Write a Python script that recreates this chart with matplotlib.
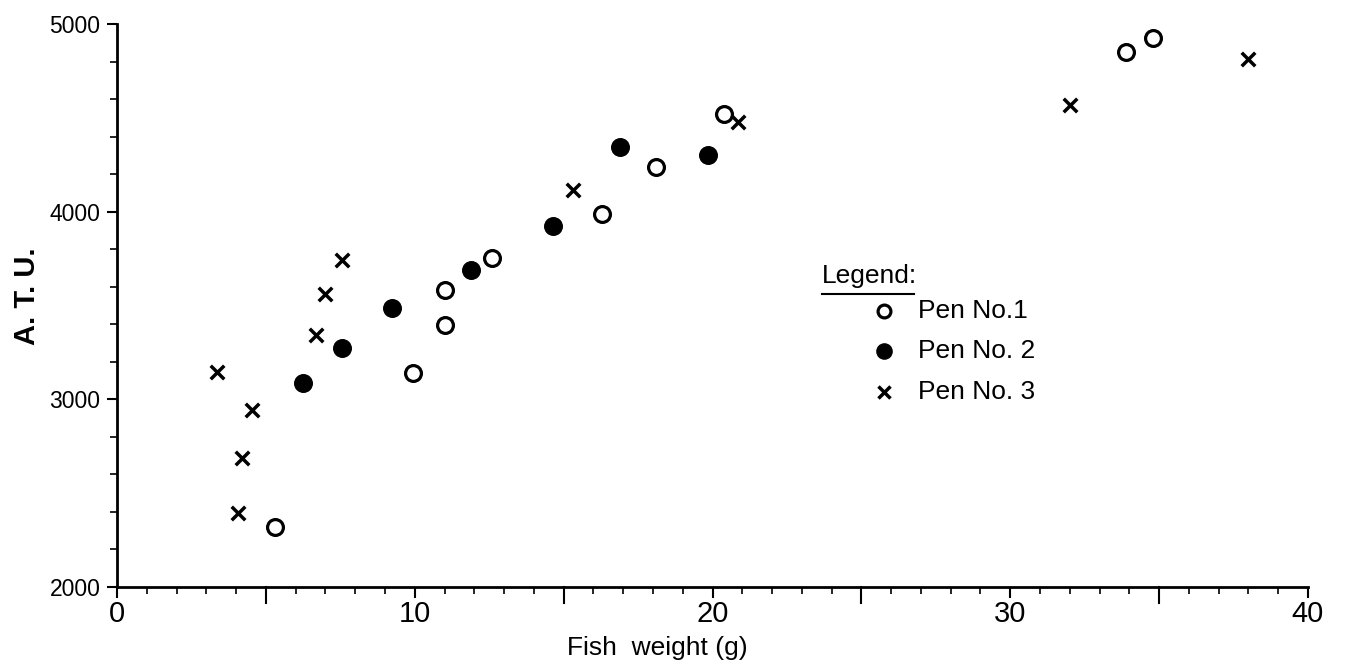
import matplotlib
matplotlib.use("Agg")
import matplotlib.pyplot as plt
from matplotlib.lines import Line2D
from matplotlib.ticker import MultipleLocator

plt.rcParams['font.family'] = ['Liberation Sans', 'DejaVu Sans']

# Data
pen1_x = [5.3, 9.95, 11.0, 11.0, 12.6, 16.3, 18.1, 20.4, 33.9, 34.8]
pen1_y = [2320, 3140, 3580, 3395, 3753, 3985, 4238, 4520, 4850, 4925]
pen2_x = [6.25, 7.55, 9.25, 11.9, 14.65, 16.9, 19.85]
pen2_y = [3087, 3273, 3486, 3689, 3923, 4344, 4302]
pen3_x = [3.35, 4.55, 4.2, 4.05, 6.7, 7.0, 7.55, 15.3, 20.85, 32.0, 38.0]
pen3_y = [3145, 2943, 2687, 2394, 3343, 3561, 3742, 4115, 4477, 4568, 4813]

labels = ["Pen No.1", "Pen No. 2", "Pen No. 3"]
xticks = [0, 10, 20, 30, 40]
yticks = [2000, 3000, 4000, 5000]

fig = plt.figure(figsize=(13.46, 6.68), dpi=100)
ax = fig.add_axes([117/1346, 1-587/668, (1308-117)/1346, (587-24)/668])

h1 = ax.scatter(pen1_x, pen1_y, s=130, facecolors='white', edgecolors='black', linewidths=2.3, marker='o', zorder=3)
h2 = ax.scatter(pen2_x, pen2_y, s=160, color='black', marker='o', zorder=3)
h3 = ax.scatter(pen3_x, pen3_y, s=95, color='black', marker='x', linewidths=2.5, zorder=3)

ax.set_xlim(0, 40)
ax.set_ylim(2000, 5000)
for s in ['top', 'right']:
    ax.spines[s].set_visible(False)
for s in ['left', 'bottom']:
    ax.spines[s].set_linewidth(2.0)

ax.set_xticks(xticks)
ax.set_xticklabels([str(v) for v in xticks], fontsize=21)
ax.set_yticks(yticks)
ax.set_yticklabels([str(v) for v in yticks], fontsize=16.5)
ax.xaxis.set_minor_locator(MultipleLocator(1))
ax.yaxis.set_minor_locator(MultipleLocator(200))
ax.tick_params(axis='x', which='major', length=8, width=1.5, pad=1)
ax.tick_params(axis='x', which='minor', length=5, width=1.2)
ax.tick_params(axis='y', which='major', length=7, width=1.5, pad=5)
ax.tick_params(axis='y', which='minor', length=5, width=1.2)
# longer ticks at the 5s
for v in [5, 15, 25, 35]:
    ax.plot([v, v], [0, -0.028], transform=ax.get_xaxis_transform(), color='black', lw=1.5, clip_on=False)

ax.set_xlabel("Fish  weight (g)", fontsize=19)
ax.xaxis.set_label_coords((657-117)/(1308-117), -(636-587)/(587-24))
ax.set_ylabel("A. T. U.", fontsize=21, fontweight='bold')
ax.yaxis.set_label_coords(-(117-41)/(1308-117), (587-296)/(587-24))

# Legend
fig.text(822/1346, 1-276/668, "Legend:", fontsize=19, va='center', ha='left')
fig.add_artist(Line2D([822/1346, 914/1346], [1-294/668, 1-294/668], color='black', lw=1.5))
leg = ax.legend([h1, h2, h3], labels, loc='upper left', bbox_to_anchor=(872/1346, 1-299/668),
                bbox_transform=fig.transFigure, frameon=False, fontsize=19,
                handlelength=0.9, handletextpad=0.83, labelspacing=0.62, borderpad=0,
                borderaxespad=0, scatterpoints=1)
for lh, sz in zip(leg.legend_handles, [85, 120, 75]):
    lh.set_sizes([sz])

fig.savefig("out.png", dpi=100, facecolor='white')
